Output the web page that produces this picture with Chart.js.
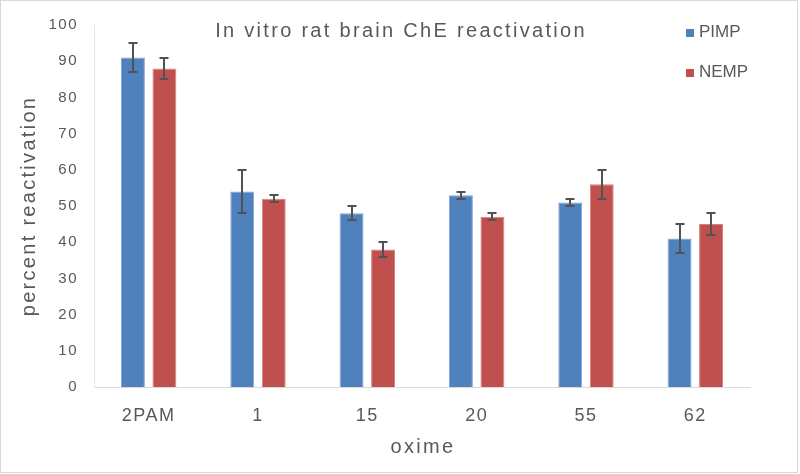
<!DOCTYPE html>
<html>
<head>
<meta charset="utf-8">
<script src="https://cdn.jsdelivr.net/npm/chart.js@4/dist/chart.umd.min.js"></script>
<style>
  html, body { margin: 0; padding: 0; background: #fff; }
  #wrap { width: 800px; height: 474px; position: relative; }
</style>
</head>
<body>
<div id="wrap"><canvas id="c" width="800" height="474"></canvas></div>
<script>
const categories = ["2PAM", "1", "15", "20", "55", "62"];
const pimpValues = [91, 54, 48, 53, 51, 41];
const pimpErrors = [4, 6, 2, 1, 1, 4];
const nempValues = [88, 52, 38, 47, 56, 45];
const nempErrors = [3, 1, 2, 1, 4, 3];
const yTicks = [0, 10, 20, 30, 40, 50, 60, 70, 80, 90, 100];
const titleText = "In vitro rat brain ChE reactivation";
const xTitle = "oxime";
const yTitle = "percent reactivation";

const FONT = "'Liberation Sans', Arial, sans-serif";
const TEXT = "#595959";

const spacingPlugin = {
  id: "spacing",
  beforeDraw(chart) { chart.ctx.letterSpacing = "1.5px"; }
};

const errorBarPlugin = {
  id: "errorBars",
  afterDatasetsDraw(chart) {
    const ctx = chart.ctx;
    const y = chart.scales.y;
    ctx.save();
    ctx.strokeStyle = "#525252";
    ctx.lineWidth = 2;
    chart.data.datasets.forEach((ds, di) => {
      const meta = chart.getDatasetMeta(di);
      meta.data.forEach((bar, i) => {
        const v = ds.data[i], e = ds.errors[i];
        const yt = Math.round(y.getPixelForValue(v + e));
        const yb = Math.round(y.getPixelForValue(v - e));
        const x = Math.round(bar.x);
        const hw = 4.5;
        ctx.beginPath();
        ctx.moveTo(x, yt); ctx.lineTo(x, yb);
        ctx.moveTo(x - hw, yt); ctx.lineTo(x + hw, yt);
        ctx.moveTo(x - hw, yb); ctx.lineTo(x + hw, yb);
        ctx.stroke();
      });
    });
    ctx.restore();
  }
};

const overlayPlugin = {
  id: "overlay",
  afterDraw(chart) {
    const ctx = chart.ctx;
    const a = chart.chartArea;
    ctx.save();
    ctx.fillStyle = TEXT;
    ctx.textAlign = "center";
    // chart title
    ctx.letterSpacing = "2.3px";
    ctx.font = "20px " + FONT;
    ctx.textBaseline = "alphabetic";
    ctx.fillText(titleText, 401, 37);
    // axis titles
    ctx.textBaseline = "middle";
    ctx.fillText(xTitle, (a.left + a.right) / 2 + 1, 447);
    ctx.save();
    ctx.translate(29, (a.top + a.bottom) / 2);
    ctx.rotate(-Math.PI / 2);
    ctx.fillText(yTitle, 0, 0);
    ctx.restore();
    // legend
    ctx.letterSpacing = "0px";
    ctx.font = "17px " + FONT;
    ctx.textAlign = "left";
    const ys = [32, 72];
    chart.data.datasets.forEach((ds, i) => {
      ctx.fillStyle = ds.backgroundColor;
      ctx.fillRect(686, ys[i] - 3, 8, 8);
      ctx.fillStyle = TEXT;
      ctx.fillText(ds.label, 699, ys[i]);
    });
    // frame
    ctx.strokeStyle = "#D9D9D9";
    ctx.lineWidth = 1;
    ctx.strokeRect(0.5, 0.5, 797, 472);
    ctx.restore();
  }
};

new Chart(document.getElementById("c"), {
  type: "bar",
  data: {
    labels: categories,
    datasets: [
      { label: "PIMP", data: pimpValues, errors: pimpErrors,
        backgroundColor: "#4F81BD", borderColor: "#7FA4D3", borderWidth: 1,
        barPercentage: 0.76, categoryPercentage: 0.576 },
      { label: "NEMP", data: nempValues, errors: nempErrors,
        backgroundColor: "#C0504D", borderColor: "#D4807D", borderWidth: 1,
        barPercentage: 0.76, categoryPercentage: 0.576 }
    ]
  },
  options: {
    responsive: false,
    animation: false,
    devicePixelRatio: 1,
    layout: { padding: { left: 0, right: 50, top: 25, bottom: 0 } },
    plugins: {
      legend: { display: false },
      title: { display: false },
      tooltip: { enabled: false }
    },
    scales: {
      x: {
        grid: { display: false, drawTicks: false },
        border: { display: true, color: "#D9D9D9", width: 1 },
        ticks: { color: TEXT, font: { family: FONT, size: 18 }, padding: 18 },
        title: { display: false },
        afterFit: s => { s.height = 87; }
      },
      y: {
        min: 0, max: 100,
        afterBuildTicks: s => { s.ticks = yTicks.map(v => ({ value: v })); },
        grid: { display: false, drawTicks: false },
        border: { display: true, color: "#E6E6E0", width: 1 },
        ticks: { color: TEXT, font: { family: FONT, size: 15 }, padding: 16 },
        title: { display: false },
        afterFit: s => { s.width = 94; }
      }
    }
  },
  plugins: [spacingPlugin, errorBarPlugin, overlayPlugin]
});
</script>
</body>
</html>
